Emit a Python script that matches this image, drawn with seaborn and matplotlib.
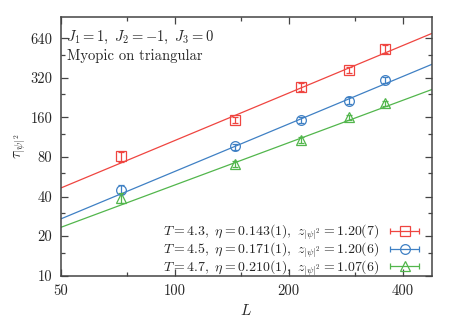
import numpy as np
import pandas as pd
import matplotlib
matplotlib.use("Agg")
from matplotlib import pyplot as plt
from matplotlib.ticker import FixedLocator, NullFormatter
from matplotlib.container import ErrorbarContainer
from matplotlib.legend_handler import HandlerErrorbar
import seaborn as sns

# data
L = [72, 144, 216, 288, 360]
tau_43 = [80.7, 153, 272, 368, 532]
tau_45 = [45.1, 96.1, 153, 215, 309]
tau_47 = [39.2, 71, 108, 160, 205]
err_43 = [7, 9, 18, 22, 35]
err_45 = [3.5, 5, 8, 12, 16]
err_47 = [3.5, 4, 5, 8, 10]

# fitted power laws: amplitude at L=50 and exponent
fit_amp = [46.4, 27.0, 23.3]
fit_exp = [1.20, 1.20, 1.07]

labels = [r"$T = 4.3,\ \eta = 0.143(1),\ z_{|\psi|^2} = 1.20(7)$",
          r"$T = 4.5,\ \eta = 0.171(1),\ z_{|\psi|^2} = 1.20(6)$",
          r"$T = 4.7,\ \eta = 0.210(1),\ z_{|\psi|^2} = 1.07(6)$"]
colors = ["#ef4540", "#3f80c4", "#52b64c"]
markers = ["s", "o", "^"]

sns.set_style("ticks")
plt.rcParams["font.family"] = ["cmr10", "DejaVu Serif"]
plt.rcParams["mathtext.fontset"] = "cm"
plt.rcParams["axes.unicode_minus"] = False
plt.rcParams["axes.formatter.use_mathtext"] = True

fig = plt.figure(figsize=(4.58, 3.21), dpi=100)
ax = fig.add_axes([0.1325, 0.1411, 0.9432 - 0.1325, 0.948 - 0.1411])

xlo, xhi = 50, 478
fits = []
for i, (a, e) in enumerate(zip(fit_amp, fit_exp)):
    xs = [xlo, xhi]
    fits.append(pd.DataFrame({"L": xs, "tau": [a * (x / 50) ** e for x in xs], "set": i}))
fit_df = pd.concat(fits)
sns.lineplot(data=fit_df, x="L", y="tau", hue="set", palette=colors,
             legend=False, lw=0.9, ax=ax)

handles = []
for ys, es, c, m in zip([tau_43, tau_45, tau_47], [err_43, err_45, err_47], colors, markers):
    ax.errorbar(L, ys, yerr=es, fmt=m, color=c, mfc="none", mec=c, ms=7,
                mew=0.9, elinewidth=0.9, capsize=2.5, capthick=0.9)
    h = ax.errorbar([np.nan], [np.nan], xerr=[1], fmt=m, color=c, mfc="none", mec=c,
                    ms=7, mew=0.9, elinewidth=0.9, capsize=2, capthick=0.9)
    handles.append(h)

ax.set_xscale("log")
ax.set_yscale("log")
ax.set_xlim(xlo, xhi)
ax.set_ylim(10, 933)

ax.xaxis.set_major_locator(FixedLocator([50, 100, 200, 400]))
ax.xaxis.set_minor_locator(FixedLocator([75, 150, 300]))
ax.set_xticklabels(["50", "100", "200", "400"])
ax.xaxis.set_minor_formatter(NullFormatter())
ax.yaxis.set_major_locator(FixedLocator([10, 20, 40, 80, 160, 320, 640]))
ax.yaxis.set_minor_locator(FixedLocator([15, 30, 60, 120, 240, 480]))
ax.set_yticklabels(["10", "20", "40", "80", "160", "320", "640"])
ax.yaxis.set_minor_formatter(NullFormatter())

ax.tick_params(which="both", direction="in", top=True, right=True,
               labelsize=10.5, color="#444444", width=0.9, pad=6)
ax.tick_params(which="major", length=5)
ax.tick_params(which="minor", length=3)
for s in ax.spines.values():
    s.set_color("#444444")
    s.set_linewidth(1.1)

ax.set_xlabel(r"$L$", fontsize=11, labelpad=4)
ax.set_ylabel(r"$\tau_{|\psi|^2}$", fontsize=11, labelpad=2)

ax.text(0.015, 0.955, r"$J_1 = 1,\ J_2 = -1,\ J_3 = 0$", transform=ax.transAxes,
        fontsize=10.5, va="top", ha="left")
ax.text(0.018, 0.875, "Myopic on triangular", transform=ax.transAxes,
        fontsize=10.5, va="top", ha="left")

ax.legend(handles, labels, loc="lower right", frameon=False, markerfirst=False,
          fontsize=10, handlelength=2.5, handletextpad=0.6, labelspacing=-0.1,
          borderaxespad=0.3, bbox_to_anchor=(1.0, -0.045),
          handler_map={ErrorbarContainer: HandlerErrorbar(xerr_size=1.05)})

fig.savefig("out.png", dpi=100)
